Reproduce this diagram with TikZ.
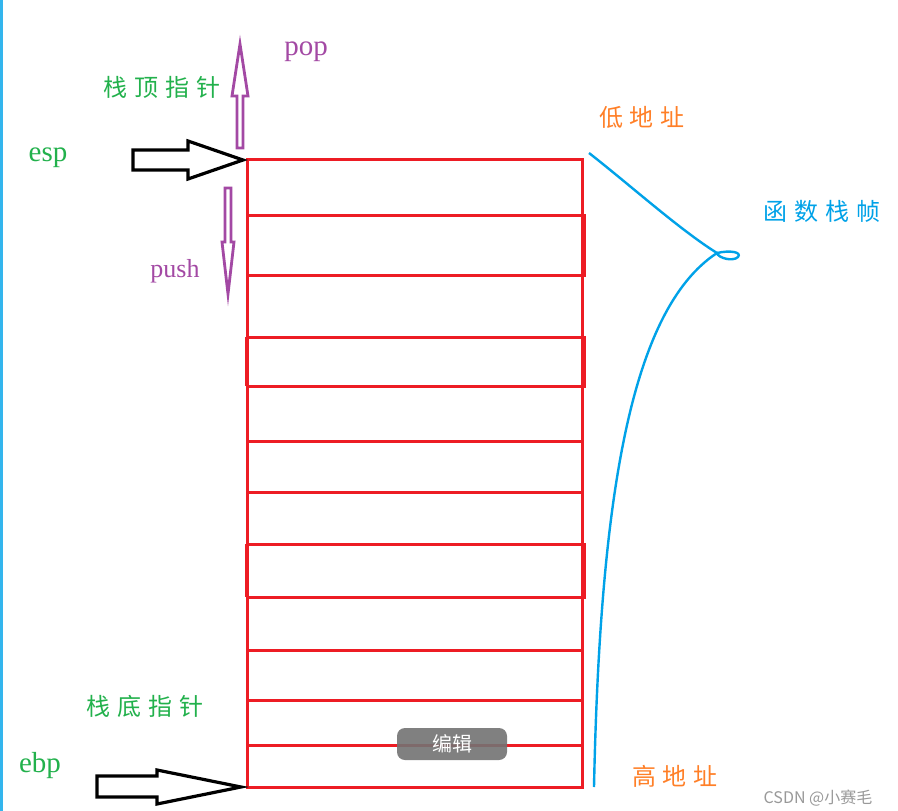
\documentclass[tikz,border=0pt]{standalone}
\usepackage{fontspec}
\setmainfont{Liberation Serif}
\newfontfamily\cjk{Noto Sans CJK SC}
\definecolor{pgreen}{RGB}{34,177,76}
\definecolor{porange}{RGB}{255,127,39}
\definecolor{pblue}{RGB}{0,162,232}
\definecolor{ppurple}{RGB}{163,73,164}
\definecolor{pred}{RGB}{237,28,36}
\begin{document}
\begin{tikzpicture}[x=1pt,y=-1pt,
  cn/.style={font=\cjk\fontsize{24}{26}\selectfont, inner sep=0pt},
  lat/.style={font=\fontsize{29}{31}\selectfont, inner sep=0pt},
  cell/.style={draw=pred, line width=3pt},
  blockarrow/.style={draw=black, line width=3.2pt, fill=white, line join=miter},
  parrow/.style={draw=ppurple, line width=2.8pt, fill=white, line join=miter}]
\useasboundingbox (0,0) rectangle (898,811);
\fill[white] (0,0) rectangle (898,811);
\fill[pblue!80] (0,0) rectangle (3,811);
% stack
\coordinate (stl) at (247,159);
\coordinate (sbr) at (582,787);
\draw[cell] (stl) rectangle (sbr);
\foreach \y in {215,275,337,386,441,492,544,597,650,700,745}{
  \draw[cell] (247,\y) -- (582,\y);
}
\foreach \a/\b in {215/275,337/386,544/597}{
  \draw[cell] (247,\a) rectangle (584,\b);
}
\draw[cell] (246,337) -- (246,386);
\draw[cell] (246,544) -- (246,597);
% esp arrow
\draw[blockarrow] (133,150) -- (188,150) -- (188,141) -- (243,160) -- (188,179) -- (188,170) -- (133,170) -- cycle;
% ebp arrow
\draw[blockarrow] (97,776) -- (157,776) -- (157,770) -- (241,787) -- (157,804) -- (157,797) -- (97,797) -- cycle;
% pop arrow
\draw[parrow] (237,148) -- (237,96) -- (232,96) -- (240,44) -- (248,96) -- (243,96) -- (243,148) -- cycle;
% push arrow
\draw[parrow] (225,188) -- (231,188) -- (231,242) -- (234,242) -- (228,294) -- (222,242) -- (225,242) -- cycle;
% blue curve
\coordinate (ctop) at (589,153);
\coordinate (cmid) at (717,253);
\coordinate (cbot) at (594,787);
\draw[pblue, line width=2.4pt] (ctop) .. controls (630,185) and (680,230) .. (cmid)
  .. controls (730,250) and (742,252) .. (738,257) .. controls (733,262) and (718,258) .. (cmid)
  .. controls (630,310) and (600,500) .. (cbot);
% texts
\node[lat, text=ppurple] (pop) at (306,52) {pop};
\node[cn, text=pgreen] (top) at (162,87) {栈\hspace{7pt}顶\hspace{7pt}指\hspace{7pt}针};
\node[lat, text=pgreen] (esp) at (48,158) {esp};
\node[lat, text=ppurple, font=\fontsize{26}{28}\selectfont] (push) at (175,271) {push};
\node[cn, text=pgreen] (bot) at (145,706) {栈\hspace{7pt}底\hspace{7pt}指\hspace{7pt}针};
\node[lat, text=pgreen] (ebp) at (40,766) {ebp};
\node[cn, text=porange] (low) at (642,117) {低\hspace{7pt}地\hspace{7pt}址};
\node[cn, text=pblue] (frame) at (822,211) {函\hspace{7pt}数\hspace{7pt}栈\hspace{7pt}帧};
\node[cn, text=porange] (high) at (675,776) {高\hspace{7pt}地\hspace{7pt}址};
\node[fill=black!55, fill opacity=0.9, rounded corners=8pt, minimum width=110pt, minimum height=32pt, text=white, text opacity=1, font=\cjk\fontsize{20}{22}\selectfont] (edit) at (452,744) {编辑};
\node[text=black!40, font=\fontsize{16}{18}\selectfont\cjk] (wm) at (818,798) {CSDN @小赛毛};
\end{tikzpicture}
\end{document}
